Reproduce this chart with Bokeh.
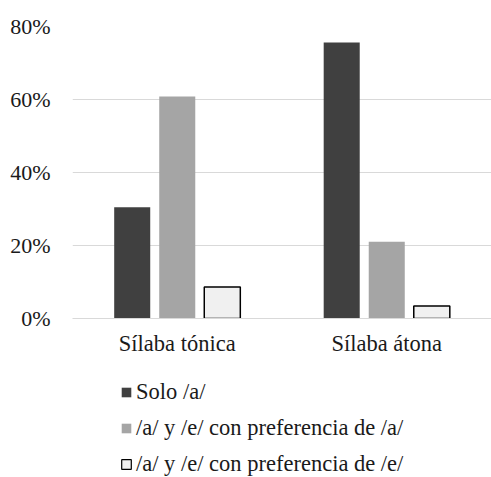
from bokeh.plotting import figure
from bokeh.layouts import column
from bokeh.models import FactorRange, Legend, LegendItem, CustomJSTickFormatter, ColumnDataSource
from bokeh.transform import dodge
from bokeh.embed import file_html
from bokeh.resources import INLINE

categories = ["Sílaba tónica", "Sílaba átona"]
solo_a = [30.5, 75.6]
ae_pref_a = [60.8, 21.0]
ae_pref_e = [8.6, 3.4]
series_labels = ["Solo /a/", "/a/ y /e/ con preferencia de /a/", "/a/ y /e/ con preferencia de /e/"]
series_colors = ["#404040", "#a5a5a5", "#f0f0f0"]
y_ticks = [0, 20, 40, 60, 80]

FONT = "Liberation Serif"
TXT = "#1a1a1a"

src = ColumnDataSource(dict(cat=categories, s1=solo_a, s2=ae_pref_a, s3=ae_pref_e))

p = figure(width=491, height=360, x_range=FactorRange(*categories), y_range=(0, 80),
           output_backend="svg", toolbar_location=None,
           min_border_left=72, min_border_right=0, min_border_top=26, min_border_bottom=42)
p.outline_line_color = None

bw = 0.172
off = 0.215
p.vbar(x=dodge("cat", -off, range=p.x_range), top="s1", width=bw, source=src,
       fill_color=series_colors[0], line_color=None)
p.vbar(x=dodge("cat", 0, range=p.x_range), top="s2", width=bw, source=src,
       fill_color=series_colors[1], line_color=None)
p.vbar(x=dodge("cat", off, range=p.x_range), top="s3", width=bw, source=src,
       fill_color=series_colors[2], line_color="black", line_width=1.5)

p.xgrid.grid_line_color = None
p.ygrid.grid_line_color = "#d9d9d9"
p.ygrid.grid_line_width = 1.2
p.yaxis.ticker = y_ticks
p.yaxis.formatter = CustomJSTickFormatter(code="return tick + '%'")

for ax in (p.xaxis, p.yaxis):
    ax.axis_line_color = None
    ax.major_tick_line_color = None
    ax.minor_tick_line_color = None
    ax.major_label_text_font = FONT
    ax.major_label_text_font_size = "22px"
    ax.major_label_text_color = TXT
p.xaxis.major_label_text_font_size = "22.5px"
p.xaxis.axis_line_color = "#d9d9d9"
p.yaxis.major_label_standoff = 16
p.xaxis.major_label_standoff = 6
p.x_range.range_padding = 0

# legend panel below the chart (its bars fall outside its y range; only the legend shows)
lg = figure(width=491, height=117, x_range=FactorRange(*categories), y_range=(200, 300),
            x_axis_type=None, y_axis_type=None, output_backend="svg",
            toolbar_location=None, min_border_left=72, min_border_right=0,
            min_border_top=0, min_border_bottom=0)
lg.outline_line_color = None
lg.xgrid.visible = False
lg.ygrid.visible = False
d1 = lg.vbar(x=dodge("cat", -off, range=lg.x_range), top="s1", width=bw, source=src,
             fill_color=series_colors[0], line_color=None)
d2 = lg.vbar(x=dodge("cat", 0, range=lg.x_range), top="s2", width=bw, source=src,
             fill_color=series_colors[1], line_color=None)
d3 = lg.vbar(x=dodge("cat", off, range=lg.x_range), top="s3", width=bw, source=src,
             fill_color=series_colors[2], line_color="black", line_width=1.2)

legend = Legend(items=[LegendItem(label=series_labels[0], renderers=[d1]),
                       LegendItem(label=series_labels[1], renderers=[d2]),
                       LegendItem(label=series_labels[2], renderers=[d3])],
                location=(48, 0), orientation="vertical",
                glyph_width=12, glyph_height=12, label_height=20, spacing=10,
                label_standoff=4, padding=0, margin=0,
                border_line_color=None, background_fill_alpha=0,
                label_text_font=FONT, label_text_font_size="22.5px", label_text_color=TXT)
lg.add_layout(legend, "center")

layout = column(p, lg, spacing=0)
open("out.html", "w").write(file_html(layout, INLINE))
